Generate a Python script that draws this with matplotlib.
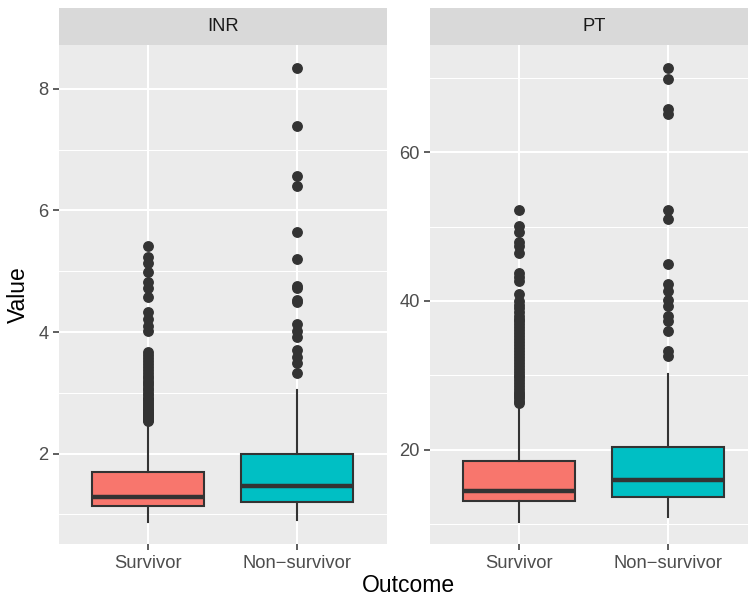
import numpy as np
import matplotlib
matplotlib.use("Agg")
import matplotlib.pyplot as plt

plt.rcParams['font.family'] = ['Liberation Sans', 'DejaVu Sans']

# categories and facet names
groups = ["Survivor", "Non\u2212survivor"]
facets = ["INR", "PT"]
fill_colors = ["#F8766D", "#00BFC4"]

# box statistics: (whislo, q1, med, q3, whishi)
inr_stats = [(0.88, 1.13, 1.28, 1.69, 2.52),
             (0.91, 1.20, 1.46, 2.00, 3.04)]
pt_stats = [(10.3, 13.1, 14.4, 18.5, 26.1),
            (10.9, 13.6, 15.9, 20.3, 30.2)]

# outliers
inr_surv_out = [5.42, 5.23, 5.13, 4.98, 4.83, 4.72, 4.58, 4.33, 4.22, 4.10, 4.02,
                3.67, 3.62, 3.57, 3.52, 3.47, 3.42, 3.37, 3.33, 3.28, 3.24, 3.20,
                3.16, 3.12, 3.08, 3.04, 3.00, 2.96, 2.92, 2.89, 2.86, 2.83, 2.80,
                2.77, 2.74, 2.71, 2.68, 2.66, 2.64, 2.62, 2.60, 2.58, 2.56, 2.54]
inr_non_out = [8.35, 7.39, 6.57, 6.40, 5.64, 5.20, 4.75, 4.72, 4.53, 4.49,
               4.14, 4.02, 3.92, 3.71, 3.59, 3.49, 3.32]
pt_surv_out = [52.3, 50.1, 49.3, 47.9, 47.4, 46.4, 43.8, 43.2, 42.7, 40.9, 40.0,
               39.5, 39.0, 38.5, 38.0, 37.6, 37.3, 36.9, 36.5, 36.1, 35.7, 35.3,
               34.9, 34.5, 34.1, 33.7, 33.3, 32.9, 32.5, 32.1, 31.7, 31.3, 30.9,
               30.5, 30.1, 29.7, 29.3, 28.9, 28.5, 28.1, 27.8, 27.5, 27.2, 26.9,
               26.6, 26.3]
pt_non_out = [71.4, 69.9, 65.8, 65.2, 52.2, 51.1, 45.0, 42.3, 41.4, 40.1, 39.3,
              38.0, 37.3, 35.9, 33.2, 32.6]

major_ticks = [[2, 4, 6, 8], [20, 40, 60]]
minor_ticks = [[1, 3, 5, 7], [10, 30, 50, 70]]

W, H = 748, 599
fig = plt.figure(figsize=(W / 100, H / 100), dpi=100)

panel_w = 327.5
panel_left = [59, 430]
panel_top, panel_bot = 45, 544.3
strip_top = 8

all_stats = [inr_stats, pt_stats]
all_out = [[inr_surv_out, inr_non_out], [pt_surv_out, pt_non_out]]

for k in range(2):
    ax = fig.add_axes([panel_left[k] / W, (H - panel_bot) / H,
                       panel_w / W, (panel_bot - panel_top) / H])
    ax.set_facecolor("#EBEBEB")
    for s in ax.spines.values():
        s.set_visible(False)

    bstats = []
    for (lo, q1, med, q3, hi), fl in zip(all_stats[k], all_out[k]):
        bstats.append(dict(whislo=lo, q1=q1, med=med, q3=q3, whishi=hi, fliers=fl))
    bp = ax.bxp(bstats, positions=[1, 2], widths=0.75, patch_artist=True,
                showcaps=False,
                boxprops=dict(edgecolor="#333333", linewidth=1.5),
                whiskerprops=dict(color="#333333", linewidth=1.5),
                medianprops=dict(color="#333333", linewidth=3.2),
                flierprops=dict(marker="o", markerfacecolor="#333333",
                                markeredgecolor="#333333", markersize=6.8))
    for patch, c in zip(bp["boxes"], fill_colors):
        patch.set_facecolor(c)
        patch.set_zorder(3)
    for ln in bp["whiskers"] + bp["medians"] + bp["fliers"]:
        ln.set_zorder(4)

    lo_all = min(min(s[0] for s in all_stats[k]), min(min(o) for o in all_out[k]))
    hi_all = max(max(s[4] for s in all_stats[k]), max(max(o) for o in all_out[k]))
    pad = 0.05 * (hi_all - lo_all)
    ax.set_ylim(lo_all - pad, hi_all + pad)
    ax.set_xlim(0.4, 2.6)

    ax.set_yticks(major_ticks[k])
    ax.set_yticks(minor_ticks[k], minor=True)
    ax.set_xticks([1, 2])
    ax.set_xticklabels(groups)
    ax.grid(True, which="major", color="white", linewidth=1.5, zorder=0)
    ax.grid(True, which="minor", axis="y", color="white", linewidth=0.75, zorder=0)
    ax.set_axisbelow(True)
    ax.tick_params(which="major", length=4.5, width=1.1, color="#333333",
                   labelcolor="#4D4D4D", labelsize=13.2, pad=3)
    ax.tick_params(which="minor", length=0)

    sax = fig.add_axes([panel_left[k] / W, (H - panel_top) / H,
                        panel_w / W, (panel_top - strip_top) / H])
    sax.set_facecolor("#D9D9D9")
    sax.set_xticks([])
    sax.set_yticks([])
    for s in sax.spines.values():
        s.set_visible(False)
    sax.text(0.5, 0.5, facets[k], ha="center", va="center",
             fontsize=13.2, color="#1A1A1A", transform=sax.transAxes)

fig.text((59 + 430 + panel_w) / 2 / W, 1 - 586 / H, "Outcome", ha="center",
         va="center", fontsize=16.5, color="black")
fig.text(18 / W, 1 - 295 / H, "Value", ha="center", va="center",
         rotation=90, fontsize=16.5, color="black")

fig.savefig("out.png", dpi=100, facecolor="white")
